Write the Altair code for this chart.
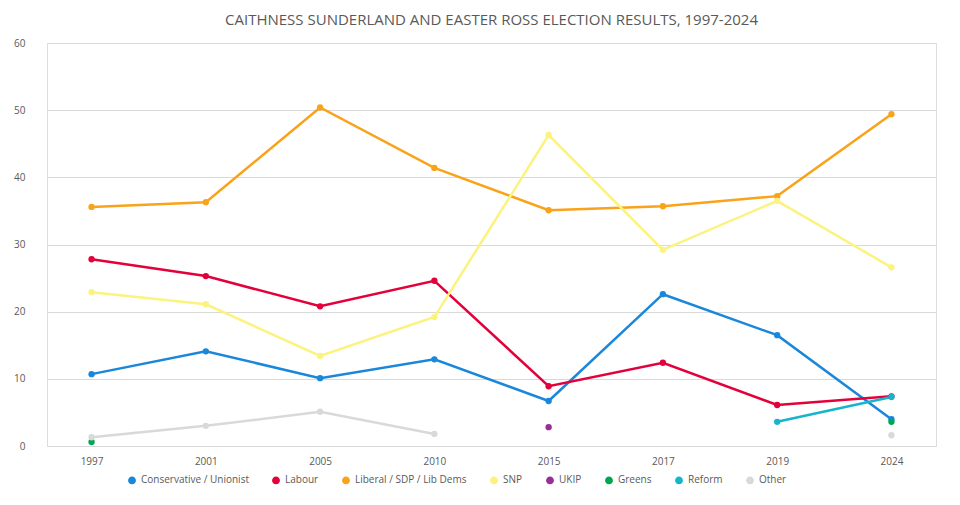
import pandas as pd
import altair as alt

years = ["1997", "2001", "2005", "2010", "2015", "2017", "2019", "2024"]

conservative = [10.7, 14.1, 10.1, 12.9, 6.7, 22.6, 16.5, 4.0]
labour = [27.8, 25.3, 20.8, 24.6, 8.9, 12.4, 6.1, 7.4]
lib_dems = [35.6, 36.3, 50.4, 41.4, 35.1, 35.7, 37.2, 49.4]
snp = [22.9, 21.1, 13.4, 19.2, 46.3, 29.2, 36.5, 26.6]
ukip = [None, None, None, None, 2.8, None, None, None]
greens = [0.6, None, None, None, None, None, None, 3.6]
reform = [None, None, None, None, None, None, 3.6, 7.3]
other = [1.3, 3.0, 5.1, 1.8, None, None, None, 1.6]

parties = ["Conservative / Unionist", "Labour", "Liberal / SDP / Lib Dems", "SNP",
           "UKIP", "Greens", "Reform", "Other"]
colors = ["#1A87DA", "#E4003B", "#F9A31B", "#FBF37E", "#9B2E96", "#00A650", "#17B5CC", "#D9D9D9"]
series = [conservative, labour, lib_dems, snp, ukip, greens, reform, other]

rows = []
for party, vals in zip(parties, series):
    seg = 0
    prev = None
    for yr, v in zip(years, vals):
        if v is None:
            if prev is not None:
                seg += 1
            prev = None
            continue
        rows.append({"year": yr, "party": party, "value": v, "seg": f"{party}-{seg}"})
        prev = v
df = pd.DataFrame(rows)

base = alt.Chart(df).encode(
    x=alt.X("year:O", title=None, sort=years,
            scale=alt.Scale(type="point", padding=0.39),
            axis=alt.Axis(labelAngle=0, grid=False, domain=False, ticks=False,
                          labelColor="#595959", labelFontSize=10, labelPadding=10)),
    y=alt.Y("value:Q", title=None, scale=alt.Scale(domain=[0, 60]),
            axis=alt.Axis(values=[0, 10, 20, 30, 40, 50, 60], domain=False, ticks=False,
                          gridColor="#D9D9D9", labelColor="#595959", labelFontSize=10,
                          labelPadding=22)),
    color=alt.Color("party:N", sort=parties,
                    scale=alt.Scale(domain=parties, range=colors),
                    legend=alt.Legend(orient="none", legendX=80, legendY=432,
                                      title=None, direction="horizontal",
                                      symbolType="circle", symbolSize=40,
                                      labelFontSize=10, labelColor="#595959",
                                      columnPadding=20)),
    detail="seg:N",
)

lines = base.mark_line(strokeWidth=2.5)
points = base.mark_circle(size=40, opacity=1)

chart = (lines + points).properties(
    width=889, height=403,
    title=alt.TitleParams("CAITHNESS SUNDERLAND AND EASTER ROSS ELECTION RESULTS, 1997-2024",
                          fontSize=15, fontWeight="normal", color="#595959", offset=10),
    background="white",
).configure_view(stroke=None).configure(font="Open Sans")

chart.save("out.html", embed_options={"renderer": "svg", "actions": False})
